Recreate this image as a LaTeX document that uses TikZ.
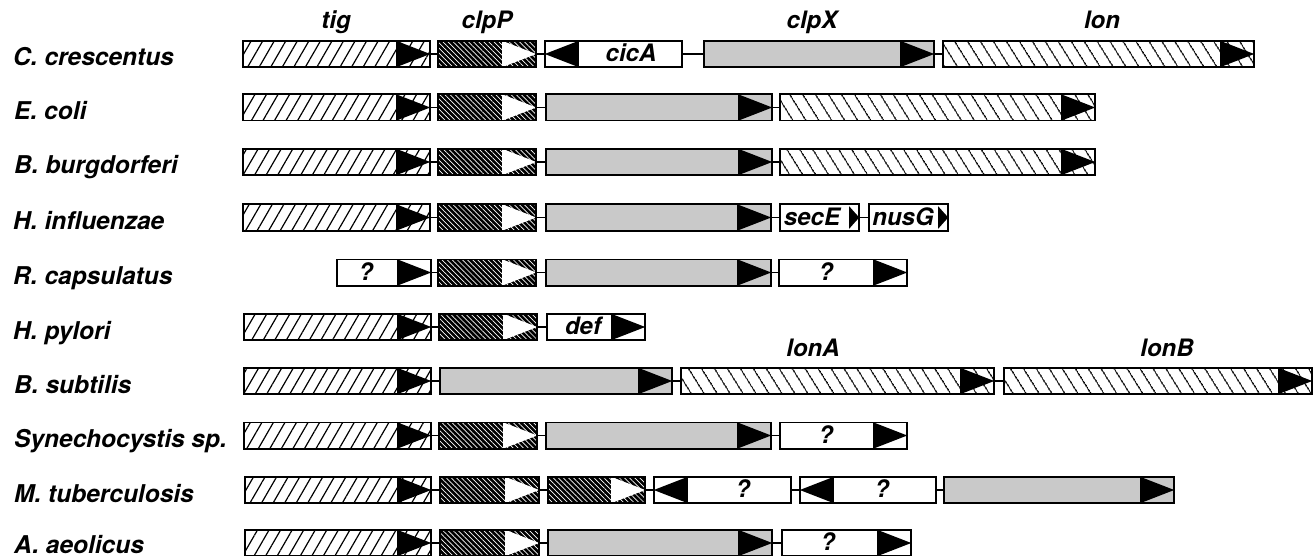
\documentclass[tikz,border=0pt]{standalone}
\usepackage{fontspec}
\setmainfont{TeX Gyre Heros}
\usetikzlibrary{patterns.meta}
\tikzset{
  x=1pt, y=-1pt,
  gbox/.style={draw, line width=1.6pt, minimum height=26.4pt, inner sep=0pt, outer sep=0pt},
  tigp/.style={gbox, pattern={Lines[angle=60,distance=10pt,line width=1.2pt]}},
  lonp/.style={gbox, pattern={Lines[angle=-58,distance=10.5pt,line width=1.2pt]}},
  clpPp/.style={gbox, preaction={fill=black}, pattern={Lines[angle=-45,distance=3.6pt,line width=0.7pt]}, pattern color=white},
  clpXp/.style={gbox, fill=black!21},
  unk/.style={gbox, fill=white},
  ra/.style={path picture={\fill[#1] ([xshift=-34pt]path picture bounding box.north east) -- (path picture bounding box.east) -- ([xshift=-34pt]path picture bounding box.south east) -- cycle;}},
  ra/.default=black,
  la/.style={path picture={\fill[#1] ([xshift=34pt]path picture bounding box.north west) -- (path picture bounding box.west) -- ([xshift=34pt]path picture bounding box.south west) -- cycle;}},
  la/.default=black,
  smallarr/.style={path picture={\fill[black] ([xshift=-10pt,yshift=-2pt]path picture bounding box.north east) -- (path picture bounding box.east) -- ([xshift=-10pt,yshift=2pt]path picture bounding box.south east) -- cycle;}},
  conn/.style={line width=1.6pt},
  sp/.style={font=\fontsize{24.5}{28}\selectfont\bfseries\itshape, anchor=base west, inner sep=0pt},
  gl/.style={font=\fontsize{24}{28}\selectfont\bfseries\itshape, anchor=base, inner sep=0pt},
  bt/.style={font=\fontsize{24}{28}\selectfont\bfseries\itshape, inner sep=0pt},
  st/.style={font=\fontsize{24}{28}\selectfont\bfseries\itshape, inner sep=0pt},
}
\newcommand\gn[5]{\node[#5, minimum width={#3pt-#2pt-1.6pt}] (#1) at ({(#2+#3)/2},#4) {};}
\begin{document}
\begin{tikzpicture}
\useasboundingbox (0,0) rectangle (1314,556);
% gene labels
\node[gl] (ltig) at (336,29) {tig};
\node[gl] (lclpP) at (487,29) {clpP};
\node[gl] (lclpX) at (812,29) {clpX};
\node[gl] (llon) at (1102,29) {lon};
\node[gl] (llonA) at (813,356) {lonA};
\node[gl] (llonB) at (1167,356) {lonB};
% species labels
\node[sp] (s1) at (13,66) {C. crescentus};
\node[sp] (s2) at (14,119.5) {E. coli};
\node[sp] (s3) at (14,174) {B. burgdorferi};
\node[sp] (s4) at (13,229.5) {H. influenzae};
\node[sp] (s5) at (13,284.5) {R. capsulatus};
\node[sp] (s6) at (13,339) {H. pylori};
\node[sp] (s7) at (14,393) {B. subtilis};
\node[sp] (s8) at (14,447.5) {Synechocystis sp.};
\node[sp] (s9) at (14,502) {M. tuberculosis};
\node[sp] (s10) at (14,553) {A. aeolicus};
% row 1
\gn{a1}{242}{431}{54}{tigp,ra}
\gn{a2}{437}{537}{54}{clpPp,ra=white}
\gn{a3}{544}{683}{54}{unk,la}
\node[bt] (a3t) at (631,53) {cicA};
\gn{a4}{703}{935}{54}{clpXp,ra}
\gn{a5}{942}{1255}{54}{lonp,ra}
\draw[conn] (a1.east) -- (a2.west);
\draw[conn] (a2.east) -- (a3.west);
\draw[conn] (a3.east) -- (a4.west);
\draw[conn] (a4.east) -- (a5.west);
% row 2
\gn{b1}{242}{431}{107.5}{tigp,ra}
\gn{b2}{437}{537}{107.5}{clpPp,ra=white}
\gn{b3}{545}{773}{107.5}{clpXp,ra}
\gn{b4}{779}{1096}{107.5}{lonp,ra}
\draw[conn] (b1.east) -- (b2.west);
\draw[conn] (b2.east) -- (b3.west);
\draw[conn] (b3.east) -- (b4.west);
% row 3
\gn{c1}{242}{431}{162}{tigp,ra}
\gn{c2}{437}{537}{162}{clpPp,ra=white}
\gn{c3}{545}{773}{162}{clpXp,ra}
\gn{c4}{779}{1096}{162}{lonp,ra}
\draw[conn] (c1.east) -- (c2.west);
\draw[conn] (c2.east) -- (c3.west);
\draw[conn] (c3.east) -- (c4.west);
% row 4
\gn{d1}{242}{431}{217.5}{tigp,ra}
\gn{d2}{437}{537}{217.5}{clpPp,ra=white}
\gn{d3}{545}{772}{217.5}{clpXp,ra}
\gn{d4}{779}{860}{217.5}{unk,smallarr}
\node[st] (d4t) at (812,216.5) {secE};
\gn{d5}{868}{949}{217.5}{unk,smallarr}
\node[st] (d5t) at (903,216.5) {nusG};
\draw[conn] (d1.east) -- (d2.west);
\draw[conn] (d2.east) -- (d3.west);
\draw[conn] (d3.east) -- (d4.west);
\draw[conn] (d4.east) -- (d5.west);
% row 5
\gn{e1}{336}{432}{272.5}{unk,ra}
\node[bt] (e1t) at (366,272) {?};
\gn{e2}{437}{537}{272.5}{clpPp,ra=white}
\gn{e3}{545}{772}{272.5}{clpXp,ra}
\gn{e4}{778}{908}{272.5}{unk,ra}
\node[bt] (e4t) at (826,272) {?};
\draw[conn] (e1.east) -- (e2.west);
\draw[conn] (e2.east) -- (e3.west);
\draw[conn] (e3.east) -- (e4.west);
% row 6
\gn{f1}{243}{432}{327}{tigp,ra}
\gn{f2}{438}{538}{327}{clpPp,ra=white}
\gn{f3}{546}{646}{327}{unk,ra}
\node[bt] (f3t) at (583,326) {def};
\draw[conn] (f1.east) -- (f2.west);
\draw[conn] (f2.east) -- (f3.west);
% row 7
\gn{g1}{243}{432}{381}{tigp,ra}
\gn{g2}{439}{673}{381}{clpXp,ra}
\gn{g3}{680}{995}{381}{lonp,ra}
\gn{g4}{1003}{1313}{381}{lonp,ra}
\draw[conn] (g1.east) -- (g2.west);
\draw[conn] (g2.east) -- (g3.west);
\draw[conn] (g3.east) -- (g4.west);
% row 8
\gn{h1}{243}{432}{435.5}{tigp,ra}
\gn{h2}{438}{538}{435.5}{clpPp,ra=white}
\gn{h3}{545}{772}{435.5}{clpXp,ra}
\gn{h4}{779}{908}{435.5}{unk,ra}
\node[bt] (h4t) at (826,435) {?};
\draw[conn] (h1.east) -- (h2.west);
\draw[conn] (h2.east) -- (h3.west);
\draw[conn] (h3.east) -- (h4.west);
% row 9
\gn{i1}{244}{432}{490}{tigp,ra}
\gn{i2}{439}{540}{490}{clpPp,ra=white}
\gn{i3}{547}{646}{490}{clpPp,ra=white}
\gn{i4}{653}{792}{490}{unk,la}
\node[bt] (i4t) at (743,489) {?};
\gn{i5}{799}{937}{490}{unk,la}
\node[bt] (i5t) at (882,489) {?};
\gn{i6}{943}{1175}{490}{clpXp,ra}
\draw[conn] (i1.east) -- (i2.west);
\draw[conn] (i2.east) -- (i3.west);
\draw[conn] (i3.east) -- (i4.west);
\draw[conn] (i4.east) -- (i5.west);
\draw[conn] (i5.east) -- (i6.west);
% row 10
\gn{j1}{244}{432}{543}{tigp,ra}
\gn{j2}{439}{540}{543}{clpPp,ra=white}
\gn{j3}{547}{773}{543}{clpXp,ra}
\gn{j4}{781}{912}{543}{unk,ra}
\node[bt] (j4t) at (828,542) {?};
\draw[conn] (j1.east) -- (j2.west);
\draw[conn] (j2.east) -- (j3.west);
\draw[conn] (j3.east) -- (j4.west);
\end{tikzpicture}
\end{document}
